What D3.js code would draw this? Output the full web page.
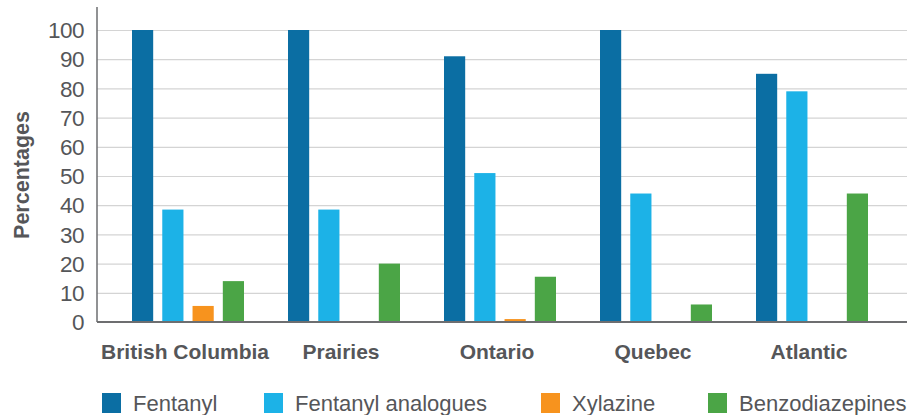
<html>
<head>
<meta charset="utf-8">
<title>Percentages by region</title>
<style>
  body { margin: 0; background: #fff; }
  text { font-family: "Liberation Sans", Arial, sans-serif; fill: #555659; }
  .grid line { stroke: #d4d4d4; stroke-width: 1.2; }
  .grid path { display: none; }
</style>
</head>
<body>
<script src="https://cdn.jsdelivr.net/npm/d3@7/dist/d3.min.js"></script>
<script>
var regions = ["British Columbia", "Prairies", "Ontario", "Quebec", "Atlantic"];
var series = ["Fentanyl", "Fentanyl analogues", "Xylazine", "Benzodiazepines"];
var fentanyl = [100, 100, 91, 100, 85];
var analogues = [38.5, 38.5, 51, 44, 79];
var xylazine = [5.5, 0, 1, 0, 0];
var benzos = [14, 20, 15.5, 6, 44];
var yTicks = [0, 10, 20, 30, 40, 50, 60, 70, 80, 90, 100];
var colors = ["#0b6ea3", "#1cb2e7", "#f7931e", "#4ba546"];

var values = [fentanyl, analogues, xylazine, benzos];
var width = 907, height = 415;

var svg = d3.select("body").append("svg")
    .attr("width", width)
    .attr("height", height);

var x0 = d3.scaleBand().domain(regions).range([110, 890]);
var x1 = d3.scaleBand().domain(series).range([22, 134]).paddingInner(0.3);
var y = d3.scaleLinear().domain([0, 100]).range([322, 30]);

// gridlines
svg.append("g")
    .attr("class", "grid")
    .attr("transform", "translate(97,0)")
    .call(d3.axisRight(y).tickValues(yTicks.slice(1)).tickSize(810).tickFormat(""));

// y tick labels
svg.append("g").selectAll("text")
    .data(yTicks)
    .enter().append("text")
    .attr("x", 84)
    .attr("y", function(d) { return y(d); })
    .attr("dy", "0.36em")
    .attr("text-anchor", "end")
    .style("font-size", "22.5px")
    .style("letter-spacing", "-0.5px")
    .text(function(d) { return d; });

// bars
var groups = svg.append("g").selectAll("g")
    .data(regions)
    .enter().append("g")
    .attr("transform", function(d) { return "translate(" + x0(d) + ",0)"; });

groups.selectAll("rect")
    .data(function(d, i) {
      return series.map(function(s, j) { return { s: s, v: values[j][i], c: colors[j] }; });
    })
    .enter().append("rect")
    .attr("x", function(d) { return x1(d.s); })
    .attr("width", x1.bandwidth())
    .attr("y", function(d) { return y(d.v); })
    .attr("height", function(d) { return y(0) - y(d.v); })
    .attr("fill", function(d) { return d.c; });

// axis lines
svg.append("line").attr("x1", 97).attr("x2", 97).attr("y1", 7).attr("y2", 322)
    .attr("stroke", "#6d6e70").attr("stroke-width", 1.5);
svg.append("line").attr("x1", 97).attr("x2", 907).attr("y1", 322).attr("y2", 322)
    .attr("stroke", "#6d6e70").attr("stroke-width", 2);

// category labels
svg.append("g").selectAll("text")
    .data(regions)
    .enter().append("text")
    .attr("x", function(d) { return x0(d) + x0.bandwidth() / 2 - 3; })
    .attr("y", 359)
    .attr("text-anchor", "middle")
    .style("font-size", "21px")
    .style("font-weight", "bold")
    .text(function(d) { return d; });

// y axis title
svg.append("text")
    .attr("transform", "translate(29,175) rotate(-90)")
    .attr("text-anchor", "middle")
    .style("font-size", "21.5px")
    .style("font-weight", "bold")
    .text("Percentages");

// legend
var legendX = [102, 264, 541, 708];
var legend = svg.append("g").selectAll("g")
    .data(series)
    .enter().append("g")
    .attr("transform", function(d, i) { return "translate(" + legendX[i] + ",393)"; });
legend.append("rect")
    .attr("width", 19).attr("height", 20)
    .attr("fill", function(d, i) { return colors[i]; });
legend.append("text")
    .attr("x", 31).attr("y", 18)
    .style("font-size", "22px")
    .text(function(d) { return d; });
</script>
</body>
</html>
